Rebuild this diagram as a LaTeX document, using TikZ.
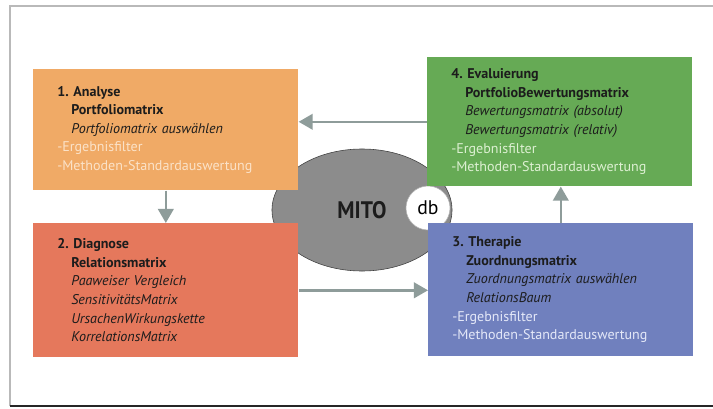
\documentclass[tikz,border=0pt]{standalone}
\usepackage{fontspec}
\setmainfont{PT Sans}
\usetikzlibrary{shapes.geometric,arrows.meta}
\definecolor{boxorange}{HTML}{F0AA66}
\definecolor{boxgreen}{HTML}{66AA55}
\definecolor{boxred}{HTML}{E5785C}
\definecolor{boxblue}{HTML}{7080BE}
\definecolor{liteorange}{HTML}{FBE2C8}
\definecolor{litegreen}{HTML}{DDF0D2}
\definecolor{liteblue}{HTML}{E4E8F8}
\definecolor{arrowgray}{HTML}{8E9C9A}
\definecolor{blobgray}{HTML}{8C8C8C}
\definecolor{inktext}{HTML}{1C1C1C}
\newcommand\stepind{\hspace*{0.35cm}}
\frenchspacing
\begin{document}
\begin{tikzpicture}[x=0.025cm,y=-0.025cm,
    stage/.style={anchor=north west,inner xsep=0.6cm,inner ysep=0pt,
      text width=5.425cm,align=left,text=inktext,
      font=\fontsize{10}{13.25}\selectfont},
    flow/.style={draw=arrowgray,line width=1.8pt,
      -{Triangle[length=10pt,width=11pt,fill=arrowgray]}}]
  \useasboundingbox (0,0) rectangle (713,409);
  \fill[white] (0,0) rectangle (713,409);
  \draw[gray!55,line width=0.8pt] (10,406) -- (10,6) -- (713,6);
  \draw[black!85,line width=1.4pt] (10,406) -- (713,406);
  \draw
    (362,210) node[ellipse,fill=blobgray,draw=gray!50!black,
      minimum width=4.5cm,minimum height=3.05cm] (mito){}
    (428,208) node[circle,fill=white,draw=gray!60,minimum size=1.1cm,
      inner sep=0pt,font=\fontsize{14}{14}\selectfont] (db){db};
  \draw
    (33,69) node[stage,fill=boxorange,minimum height=3.025cm] (analyse){%
      \textbf{1. Analyse}\\
      \stepind\textbf{Portfoliomatrix}\\
      \stepind\textit{Portfoliomatrix auswählen}\\
      {\color{liteorange}-Ergebnisfilter}\\
      {\color{liteorange}-Methoden-Standardauswertung}}
    (427,57) node[stage,fill=boxgreen,minimum height=3.225cm] (evaluierung){%
      \textbf{4. Evaluierung}\\
      \stepind\textbf{PortfolioBewertungsmatrix}\\
      \stepind\textit{Bewertungsmatrix (absolut)}\\
      \stepind\textit{Bewertungsmatrix (relativ)}\\
      {\color{litegreen}-Ergebnisfilter}\\
      {\color{litegreen}-Methoden-Standardauswertung}}
    (33,223) node[stage,fill=boxred,minimum height=3.35cm] (diagnose){%
      \textbf{2. Diagnose}\\
      \stepind\textbf{Relationsmatrix}\\
      \stepind\textit{Paaweiser Vergleich}\\
      \stepind\textit{SensitivitätsMatrix}\\
      \stepind\textit{UrsachenWirkungskette}\\
      \stepind\textit{KorrelationsMatrix}}
    (428,223) node[stage,fill=boxblue,minimum height=3.325cm] (therapie){%
      \textbf{3. Therapie}\\
      \stepind\textbf{Zuordnungsmatrix}\\
      \stepind\textit{Zuordnungsmatrix auswählen}\\
      \stepind\textit{RelationsBaum}\\
      {\color{liteblue}-Ergebnisfilter}\\
      {\color{liteblue}-Methoden-Standardauswertung}};
  \node[font=\fontsize{17}{17}\selectfont\bfseries,text=inktext,xscale=0.9]
    at (mito) {MITO};
  \begin{scope}[flow]
    \draw (analyse.south) to (analyse.south |- diagnose.north);
    \draw (diagnose.east) to (diagnose.east -| therapie.west);
    \draw (therapie.north) to (therapie.north |- evaluierung.south);
    \draw (evaluierung.west) to (evaluierung.west -| analyse.east);
  \end{scope}
\end{tikzpicture}
\end{document}
